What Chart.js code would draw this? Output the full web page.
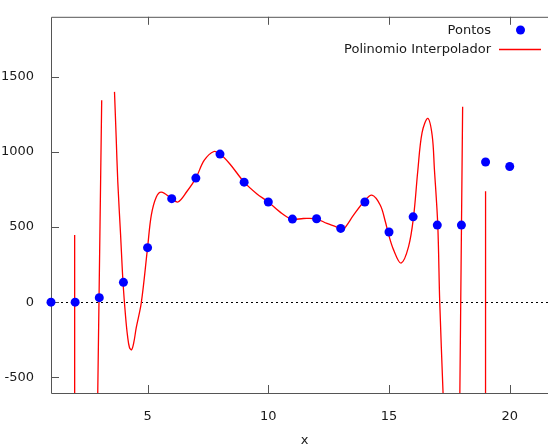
<!DOCTYPE html>
<html>
<head>
<meta charset="utf-8">
<script src="https://cdn.jsdelivr.net/npm/chart.js@4.4.1/dist/chart.umd.min.js"></script>
<style>
  html, body { margin: 0; padding: 0; background: #fff; overflow: hidden; }
  .wrap { width: 600px; height: 447px; }
</style>
</head>
<body>
<div class="wrap"><canvas id="grafico"></canvas></div>
<script>
// pontos dados
const pontosX = [1, 2, 3, 4, 5, 6, 7, 8, 9, 10, 11, 12, 13, 14, 15, 16, 17, 18, 19, 20];
const pontosY = [0, 0, 30, 132, 363, 689, 826, 986, 799, 667, 553, 555, 491, 667, 467, 568, 513, 513, 933, 903];

// curva do polinomio (null = quebra da linha)
const curvaX = [1.978, 1.98, 1.982, 2.5, 2.92, 3.10, 3.3,
  3.63, 3.70, 3.767, 3.88, 3.983, 4.087, 4.17, 4.25, 4.336, 4.43, 4.531, 4.739, 5.0,
  5.155, 5.362, 5.57, 6.0, 6.26, 6.62, 7.0, 7.35, 7.75, 8.0, 8.41, 9.0,
  9.52, 10.0, 10.48, 10.97, 11.45, 11.97, 12.43, 12.98, 13.11, 13.53, 13.95,
  14.29, 14.64, 14.85, 14.96, 15.19, 15.5, 15.81, 16.02, 16.19, 16.37, 16.61,
  16.79, 16.88, 17.02, 17.1, 17.24, 17.3, 17.6,
  17.92, 18.05, 18.5,
  18.998, 19.0];
const curvaY = [-2500, 447, -2500, null, -800, 1345, null,
  1400, 1096, 799, 455, 132, -92, -225, -302, -317, -268, -170, -5, 363,
  579, 700, 733, 689, 667, 735, 826, 945, 1003, 986, 920, 799,
  722, 667, 601, 553, 557, 555, 524, 491, 484, 579, 667,
  712, 645, 535, 464, 348, 260, 370, 573, 870, 1129, 1224,
  1108, 887, 513, 7, -610, -880, null,
  -850, 1301, null,
  -2500, 738];

const xTicks = [5, 10, 15, 20];
const yTicks = [-500, 0, 500, 1000, 1500];

const fonte = "'DejaVu Sans', sans-serif";
const corTexto = "#1a1a1a";
const corPontos = "#0000ff";
const corLinha = "#ff0000";

// moldura, marcas para dentro, linha do zero e legenda
const moldura = {
  id: "moldura",
  beforeDatasetsDraw(chart) {
    const { ctx, chartArea: a, scales } = chart;
    ctx.save();
    const y0 = Math.round(scales.y.getPixelForValue(0)) + 0.5;
    ctx.strokeStyle = "#000";
    ctx.lineWidth = 1;
    ctx.setLineDash([2, 3]);
    ctx.beginPath();
    ctx.moveTo(a.left, y0);
    ctx.lineTo(a.right, y0);
    ctx.stroke();
    ctx.setLineDash([]);

    ctx.strokeStyle = "#555";
    ctx.beginPath();
    ctx.moveTo(a.right, a.top + 0.5);
    ctx.lineTo(a.left + 0.5, a.top + 0.5);
    ctx.lineTo(a.left + 0.5, a.bottom + 0.5);
    ctx.lineTo(a.right, a.bottom + 0.5);
    yTicks.forEach(v => {
      const p = Math.round(scales.y.getPixelForValue(v)) + 0.5;
      ctx.moveTo(a.left, p); ctx.lineTo(a.left + 8, p);
    });
    xTicks.forEach(v => {
      const p = Math.round(scales.x.getPixelForValue(v)) + 0.5;
      ctx.moveTo(p, a.bottom); ctx.lineTo(p, a.bottom - 8);
      ctx.moveTo(p, a.top); ctx.lineTo(p, a.top + 8);
    });
    ctx.stroke();
    ctx.restore();
  },
  afterDraw(chart) {
    const { ctx, chartArea: a } = chart;
    const ds = chart.data.datasets;
    const xt = a.right - 67;
    ctx.save();
    ctx.font = "13px " + fonte;
    ctx.fillStyle = corTexto;
    ctx.textAlign = "right";
    ctx.textBaseline = "middle";
    ctx.fillText(ds[0].label, xt, 31);
    ctx.fillText(ds[1].label, xt, 50);
    ctx.fillStyle = corPontos;
    ctx.beginPath();
    ctx.arc(a.right - 37.5, 30, 4.5, 0, Math.PI * 2);
    ctx.fill();
    ctx.strokeStyle = corLinha;
    ctx.lineWidth = 1.3;
    ctx.beginPath();
    ctx.moveTo(a.right - 59, 49.5);
    ctx.lineTo(a.right - 17, 49.5);
    ctx.stroke();
    ctx.restore();
  }
};

const ctx = document.getElementById("grafico");
new Chart(ctx, {
  type: "line",
  data: {
    datasets: [
      {
        label: "Pontos",
        data: pontosX.map((x, i) => ({ x: x, y: pontosY[i] })),
        showLine: false,
        pointRadius: 4.5,
        pointBorderWidth: 0,
        backgroundColor: corPontos,
        borderColor: corPontos,
        clip: false
      },
      {
        label: "Polinomio Interpolador",
        data: curvaX.map((x, i) => ({ x: x, y: curvaY[i] })),
        borderColor: corLinha,
        borderWidth: 1.3,
        pointRadius: 0,
        spanGaps: false,
        tension: 0.35
      }
    ]
  },
  options: {
    responsive: true,
    maintainAspectRatio: false,
    animation: false,
    layout: { padding: { top: 13, right: 42, left: 0, bottom: 0 } },
    plugins: {
      legend: { display: false },
      tooltip: { enabled: false }
    },
    scales: {
      x: {
        type: "linear",
        min: 1,
        max: 22,
        grid: { display: false },
        border: { display: false },
        afterBuildTicks: s => { s.ticks = xTicks.map(v => ({ value: v })); },
        afterFit: s => { s.height = 54; },
        ticks: { color: corTexto, font: { family: fonte, size: 13 }, padding: 8, maxRotation: 0,
          callback: v => String(v) },
        title: { display: true, text: "x", color: corTexto, font: { family: fonte, size: 13 }, padding: { top: 0, bottom: -1 } }
      },
      y: {
        type: "linear",
        min: -605,
        max: 1900,
        grid: { display: false },
        border: { display: false },
        afterBuildTicks: s => { s.ticks = yTicks.map(v => ({ value: v })); },
        afterFit: s => { s.width = 51; },
        ticks: { color: corTexto, font: { family: fonte, size: 13 }, padding: 9,
          callback: v => String(v) }
      }
    }
  },
  plugins: [moldura]
});
</script>
</body>
</html>
